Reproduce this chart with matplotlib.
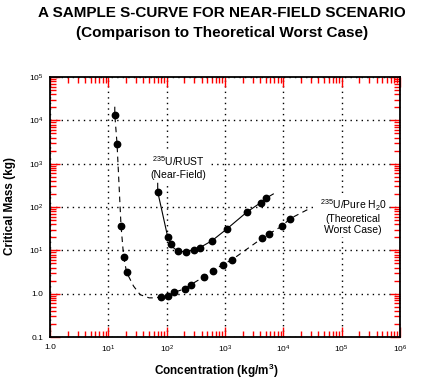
import matplotlib
matplotlib.use("Agg")
import matplotlib.pyplot as plt
from matplotlib.ticker import LogLocator, FixedLocator, NullFormatter
import numpy as np

plt.rcParams['font.family'] = ['Liberation Sans', 'DejaVu Sans']
plt.rcParams['mathtext.fontset'] = 'custom'
plt.rcParams['mathtext.rm'] = 'Liberation Sans'
plt.rcParams['mathtext.it'] = 'Liberation Sans:italic'
plt.rcParams['mathtext.bf'] = 'Liberation Sans:bold'

# 235U / Pure H2O (theoretical worst case) data points
h2o_x = [12.9, 14.1, 16.5, 18.3, 20.6, 80, 105, 134, 206, 258, 437, 623, 914, 1320, 4300, 5750, 9500, 13000]
h2o_y = [13500, 2890, 37, 7.1, 3.1, 0.85, 0.88, 1.07, 1.30, 1.61, 2.46, 3.39, 4.71, 6.08, 18.9, 24.2, 36.4, 53.7]
# dashed fitted curve for pure H2O
h2o_curve_x = [12.9, 12.9, 14.1, 16.5, 18.3, 20.6, 27, 35, 50, 65, 80, 105, 134, 206, 258, 437, 623, 914, 1320, 4300, 5750, 9500, 13000, 28600]
h2o_curve_y = [20600, 13500, 2890, 37, 7.1, 3.1, 1.5, 0.95, 0.8, 0.8, 0.85, 0.88, 1.07, 1.30, 1.61, 2.46, 3.39, 4.71, 6.08, 18.9, 24.2, 36.4, 53.7, 93]

# 235U / RUST (near-field) data points
rust_x = [70.2, 104, 117, 156, 212, 291, 369, 599, 1070, 2380, 4090, 5110]
rust_y = [225, 20.6, 14.2, 9.8, 9.1, 10.3, 11.5, 16.7, 31, 76.6, 126, 161]
# solid fitted curve for rust
rust_curve_x = [70.2, 70.2, 104, 117, 135, 156, 212, 291, 369, 599, 1070, 2380, 4090, 5110, 6730]
rust_curve_y = [352, 225, 20.6, 14.2, 11.0, 9.8, 9.1, 10.3, 11.5, 16.7, 31, 76.6, 126, 161, 200]

major = [1e0, 1e1, 1e2, 1e3, 1e4, 1e5, 1e6]
x_ticklabels = ["1.0", "$10^1$", "$10^2$", "$10^3$", "$10^4$", "$10^5$", "$10^6$"]
y_major = [0.1, 1, 10, 100, 1e3, 1e4, 1e5]
y_ticklabels = ["0.1", "1.0", "$10^1$", "$10^2$", "$10^3$", "$10^4$", "$10^5$"]

W, H = 432, 383
fig = plt.figure(figsize=(W / 100, H / 100), dpi=100)
ax = fig.add_axes([50 / W, 1 - 337 / H, 350 / W, 260 / H])
ax.set_xscale('log')
ax.set_yscale('log')
ax.set_xlim(1, 1e6)
ax.set_ylim(0.1, 1e5)

ax.plot(h2o_curve_x, h2o_curve_y, color='black', lw=0.8, ls=(0, (5, 4)))
ax.plot(h2o_x, h2o_y, 'o', color='black', ms=4.6, mec='black')
ax.plot(rust_curve_x, rust_curve_y, color='black', lw=0.8, ls='-')
ax.plot(rust_x, rust_y, 'o', color='black', ms=4.6, mec='black')

ax.xaxis.set_major_locator(FixedLocator(major))
ax.yaxis.set_major_locator(FixedLocator(y_major))
ax.xaxis.set_minor_locator(LogLocator(base=10, subs=np.arange(2, 10), numticks=20))
ax.yaxis.set_minor_locator(LogLocator(base=10, subs=np.arange(2, 10), numticks=20))
ax.xaxis.set_minor_formatter(NullFormatter())
ax.yaxis.set_minor_formatter(NullFormatter())
ax.set_xticklabels(x_ticklabels)
ax.set_yticklabels(y_ticklabels)

ax.tick_params(which='both', direction='in', colors='red', top=True, right=True, labelcolor='black', labelsize=6)
ax.tick_params(which='major', length=7, width=1, pad=5)
ax.tick_params(which='minor', length=4, width=1)

ax.grid(True, which='major', color='black', ls=(0, (1, 3)), lw=1)
for s in ax.spines.values():
    s.set_linewidth(1.3)
    s.set_color('black')

# axis labels placed explicitly
fig.text(216 / W, 1 - 371 / H, "Concentration (kg/m$\\mathregular{^3}$)", fontsize=8.5, fontweight='bold',
         ha='center', va='center')
fig.text(10 / W, 1 - 206 / H, "Critical Mass (kg)", fontsize=8.5, fontweight='bold',
         ha='center', va='center', rotation=90)

fig.text(222 / W, 1 - 13 / H, "A SAMPLE S-CURVE FOR NEAR-FIELD SCENARIO", fontsize=11,
         fontweight='bold', ha='center', va='center')
fig.text(222 / W, 1 - 33 / H, "(Comparison to Theoretical Worst Case)", fontsize=11,
         fontweight='bold', ha='center', va='center')

box = dict(facecolor='white', edgecolor='none', pad=1.5)
fig.text(178 / W, 1 - 167 / H, "$\\mathregular{^{235}}$U/RUST\n(Near-Field)", fontsize=7.5,
         ha='center', va='center', linespacing=1.15, bbox=box)
fig.text(353 / W, 1 - 216 / H, "$\\mathregular{^{235}}$U/Pure H$\\mathregular{_2}$0\n(Theoretical\nWorst Case)",
         fontsize=7.5, ha='center', va='center', linespacing=1.15, bbox=box)

fig.savefig("out.png", dpi=100)
